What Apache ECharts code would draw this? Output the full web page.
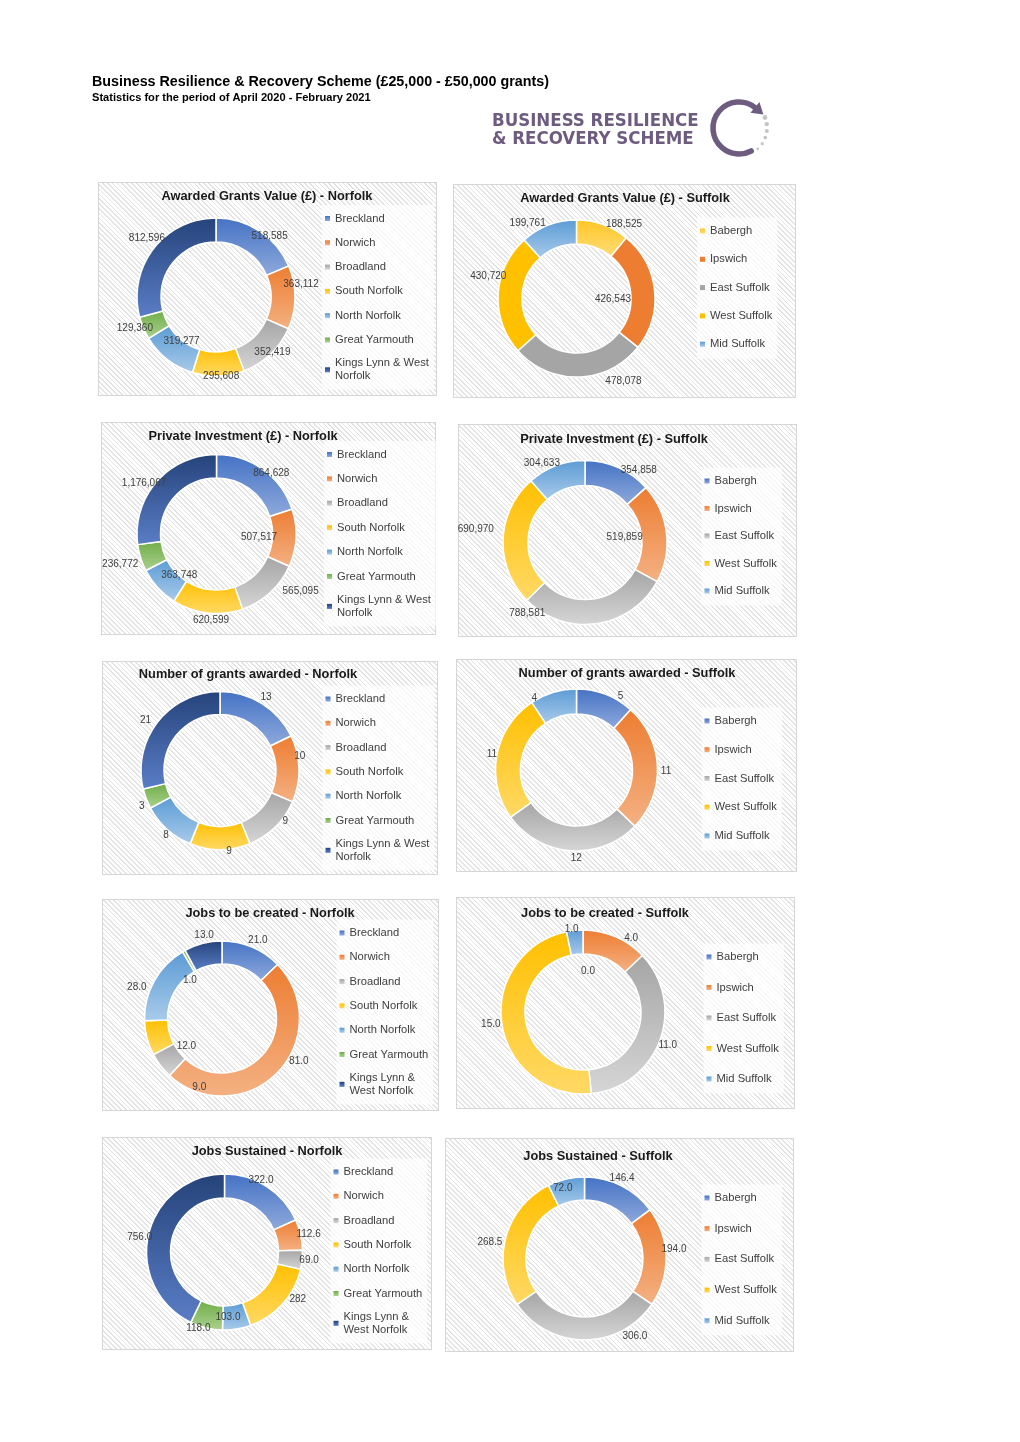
<!DOCTYPE html>
<html><head><meta charset="utf-8">
<script src="https://cdn.jsdelivr.net/npm/echarts@6/dist/echarts.min.js"></script>
<style>
html,body{margin:0;padding:0;background:#fff;}
#wrap{position:relative;width:1020px;height:1442px;overflow:hidden;}
.panel{position:absolute;box-sizing:border-box;border:1px solid #d6d6d6;
  background:repeating-linear-gradient(45deg,#ffffff 0px,#ffffff 2.2px,#e3e3e3 2.2px,#e3e3e3 3.4px);}
#chart{position:absolute;left:0;top:0;width:1020px;height:1442px;}
</style></head>
<body><div id="wrap"><div id="chart"></div></div>
<script>
// ---------------- DATA ----------------
const norfolkDistricts = ['Breckland','Norwich','Broadland','South Norfolk','North Norfolk','Great Yarmouth','Kings Lynn & West Norfolk'];
const suffolkDistricts = ['Babergh','Ipswich','East Suffolk','West Suffolk','Mid Suffolk'];

const grantsValueNorfolk   = [518585, 363112, 352419, 295608, 319277, 129360, 812596];
const grantsValueSuffolk   = [188525, 426543, 478078, 430720, 199761];
const privateInvNorfolk    = [864628, 507517, 565095, 620599, 363748, 236772, 1176067];
const privateInvSuffolk    = [354858, 519859, 788581, 690970, 304633];
const grantsCountNorfolk   = [13, 10, 9, 9, 8, 3, 21];
const grantsCountSuffolk   = [5, 11, 12, 11, 4];
const jobsCreatedNorfolk   = [21, 81, 9, 12, 28, 1, 13];
const jobsCreatedSuffolk   = [0, 4, 11, 15, 1];
const jobsSustainedNorfolk = [322, 112.6, 69, 282, 103, 118, 756];
const jobsSustainedSuffolk = [146.4, 194, 306, 268.5, 72];
// number of decimals shown in the data labels
const jobsSustainedNorfolkDecimals = [1, 1, 1, 0, 1, 1, 1];

const pageTitle = 'Business Resilience & Recovery Scheme (£25,000 - £50,000 grants)';
const pageSubtitle = 'Statistics for the period of April 2020 - February 2021';
const logoLine1 = 'BUSINESS RESILIENCE';
const logoLine2 = '& RECOVERY SCHEME';

// ---------------- STYLE ----------------
const FONT = '"Liberation Sans", Arial, Helvetica, sans-serif';
const PAL = {
  blue:   ['#4472C4', '#8FAADC'],
  orange: ['#ED7D31', '#F4B183'],
  grey:   ['#A5A5A5', '#D6D6D6'],
  gold:   ['#FFC000', '#FFD966'],
  ltblue: ['#5B9BD5', '#A9CBEA'],
  green:  ['#70AD47', '#AAD18F'],
  navy:   ['#25437A', '#5A7DC6'],
  babGold:['#FFC525', '#FFDD77'],
  orangeSolid: ['#ED7D31', '#ED7D31'],
  greySolid:   ['#A5A5A5', '#A5A5A5'],
  goldSolid:   ['#FFC000', '#FFC000']
};
const norfolkColors = [PAL.blue, PAL.orange, PAL.grey, PAL.gold, PAL.ltblue, PAL.green, PAL.navy];
const suffolkColors = [PAL.blue, PAL.orange, PAL.grey, PAL.gold, PAL.ltblue];
const suffolkAwardColors = [PAL.babGold, PAL.orangeSolid, PAL.greySolid, PAL.goldSolid, PAL.ltblue];

function grad(c) {
  if (c[0] === c[1]) return c[0];
  return new echarts.graphic.LinearGradient(0, 0, 0, 1, [{offset: 0, color: c[0]}, {offset: 1, color: c[1]}]);
}

const panels = [
  {title: 'Awarded Grants Value (£) - Norfolk', cats: norfolkDistricts, vals: grantsValueNorfolk, dec: null, colors: norfolkColors,
   box: [98, 182, 339, 214], titlePos: [267, 195], center: [216, 297], radius: [55, 79],
   legend: {x: 325, y: 218.5, step: 24.3}, wrap: 'Kings Lynn & West\nNorfolk',
   labelShift: [8, -9, -2, -2, 0, 2, 3], labelR: [81, 86, 79, 79, 56, 87, 91]},
  {title: 'Awarded Grants Value (£) - Suffolk', cats: suffolkDistricts, vals: grantsValueSuffolk, dec: null, colors: suffolkAwardColors,
   box: [453, 184, 343, 214], titlePos: [625, 197], center: [576.5, 298.5], radius: [54.5, 78.5],
   legend: {x: 700, y: 231, step: 28.3}, wrap: null,
   labelShift: [13, 8, -28, 11, -12], labelR: [88, 36.5, 95, 91, 90]},
  {title: 'Private Investment (£) - Norfolk', cats: norfolkDistricts, vals: privateInvNorfolk, dec: null, colors: norfolkColors,
   box: [101, 422, 335, 213], titlePos: [243, 435], center: [216.5, 534], radius: [56, 79.5],
   legend: {x: 327, y: 454.5, step: 24.4}, wrap: 'Kings Lynn & West\nNorfolk',
   labelShift: [6, 1, -13, -3, -5.5, 0, -6], labelR: [82, 42.6, 102, 86, 55.6, 101, 88.6]},
  {title: 'Private Investment (£) - Suffolk', cats: suffolkDistricts, vals: privateInvSuffolk, dec: null, colors: suffolkColors,
   box: [458, 424, 339, 213], titlePos: [614, 438], center: [585, 542.5], radius: [57, 82],
   legend: {x: 704.5, y: 481, step: 27.5}, wrap: null,
   labelShift: [12.7, -1, 47.6, 5, -8], labelR: [90, 40, 91, 110, 90]},
  {title: 'Number of grants awarded - Norfolk', cats: norfolkDistricts, vals: grantsCountNorfolk, dec: null, colors: norfolkColors,
   box: [102, 661, 336, 214], titlePos: [248, 673], center: [220, 770.5], radius: [56, 79],
   legend: {x: 325.5, y: 699, step: 24.3}, wrap: 'Kings Lynn & West\nNorfolk',
   labelShift: [0, -9, -7.6, -6.4, -2, -3.5, -4], labelR: [86.7, 81, 83, 81, 84, 86, 90]},
  {title: 'Number of grants awarded - Suffolk', cats: suffolkDistricts, vals: grantsCountSuffolk, dec: null, colors: suffolkColors,
   box: [456, 659, 341, 213], titlePos: [627, 672], center: [576.5, 770], radius: [56, 81],
   legend: {x: 704.5, y: 721, step: 28.75}, wrap: null,
   labelShift: [10, 2.6, -4, 0, -13.5], labelR: [85.5, 89.5, 88, 86, 83.6]},
  {title: 'Jobs to be created - Norfolk', cats: norfolkDistricts, vals: jobsCreatedNorfolk, dec: [1,1,1,1,1,1,1], colors: norfolkColors,
   box: [102, 899, 337, 212], titlePos: [270, 912], center: [222, 1018.5], radius: [54.5, 77.5],
   legend: {x: 339.5, y: 933, step: 24.3}, wrap: 'Kings Lynn &\nWest Norfolk',
   labelShift: [1.7, -15, -34, -23, -9, -10.5, 2], labelR: [86, 88, 72, 45, 90.6, 50, 85]},
  {title: 'Jobs to be created - Suffolk', cats: suffolkDistricts, vals: jobsCreatedSuffolk, dec: [1,1,1,1,1], colors: suffolkColors,
   box: [456, 897, 339, 212], titlePos: [605, 912], center: [583, 1012], radius: [58, 82],
   legend: {x: 706.5, y: 957, step: 30.5}, wrap: null,
   labelShift: [7, 10, 1, 1, -2], labelR: [41, 88, 91, 93, 84]},
  {title: 'Jobs Sustained - Norfolk', cats: norfolkDistricts, vals: jobsSustainedNorfolk, dec: jobsSustainedNorfolkDecimals, colors: norfolkColors,
   box: [102, 1137, 330, 213], titlePos: [267, 1150], center: [224.5, 1252], radius: [54, 78],
   legend: {x: 333.5, y: 1172, step: 24.3}, wrap: 'Kings Lynn &\nWest Norfolk',
   labelShift: [-6, 0.7, 0, -9, 6, 5.4, -3], labelR: [80.7, 86, 85, 87, 65, 80.5, 86]},
  {title: 'Jobs Sustained - Suffolk', cats: suffolkDistricts, vals: jobsSustainedSuffolk, dec: [1,1,1,1,1], colors: suffolkColors,
   box: [445, 1138, 349, 214], titlePos: [598, 1155], center: [584.5, 1258.5], radius: [58.5, 81.5],
   legend: {x: 704.5, y: 1198, step: 30.7}, wrap: null,
   labelShift: [-1.7, -5, -33, -5, -4], labelR: [89, 90, 92.5, 96, 73.7]}
];

// panel backgrounds
const wrap = document.getElementById('wrap');
panels.forEach(p => {
  const d = document.createElement('div');
  d.className = 'panel';
  d.style.left = p.box[0] + 'px'; d.style.top = p.box[1] + 'px';
  d.style.width = p.box[2] + 'px'; d.style.height = p.box[3] + 'px';
  wrap.insertBefore(d, wrap.firstChild);
});

function fmtVal(p, i) {
  const v = p.vals[i];
  if (!p.dec) return Math.round(v).toLocaleString('en-US');
  return v.toFixed(p.dec[i]);
}

const KL = 'Kings Lynn & West Norfolk';

const titles = [
  {text: pageTitle, left: 92, top: 75, padding: 0,
   textStyle: {fontSize: 14.3, fontWeight: 'bold', color: '#000', fontFamily: FONT}},
  {text: pageSubtitle, left: 92, top: 92.5, padding: 0,
   textStyle: {fontSize: 11.1, fontWeight: 'bold', color: '#000', fontFamily: FONT}}
].concat(panels.map(p => ({
  text: p.title, left: p.titlePos[0], top: p.titlePos[1] - 5.5, textAlign: 'center', padding: 0,
  textStyle: {fontSize: 12.8, fontWeight: 'bold', color: '#1a1a1a', fontFamily: FONT}
})));

const legends = panels.map(p => ({
  orient: 'vertical', left: p.legend.x - 3, top: p.legend.y - 6.5 - 7,
  itemGap: p.legend.step - 13, padding: [7, 5, 8, 3],
  backgroundColor: 'rgba(255,255,255,0.72)',
  icon: 'rect', itemWidth: 5, itemHeight: 5, selectedMode: false,
  itemStyle: {borderWidth: 0},
  textStyle: {fontSize: 11.2, color: '#404040', fontFamily: FONT, lineHeight: 13},
  formatter: n => (n === KL && p.wrap) ? p.wrap : n,
  data: p.cats.map((n, i) => {
    const o = {name: n, itemStyle: {color: grad(p.colors[i]), borderWidth: 0}};
    if (n === KL) o.textStyle = {padding: [0, 0, -13, 0]};
    return o;
  })
}));

const series = panels.map(p => {
  const total = p.vals.reduce((a, b) => a + b, 0);
  let acc = 0;
  const mids = p.vals.map(v => { const m = (acc + v / 2) / total * 360; acc += v; return m; });
  return {
    type: 'pie', name: p.title, center: p.center, radius: p.radius,
    startAngle: 90, clockwise: true, avoidLabelOverlap: false, animation: false, silent: true,
    itemStyle: {borderColor: '#ffffff', borderWidth: 1.5},
    label: {show: true, position: 'inside', color: '#404040', fontSize: 10, fontFamily: FONT,
            formatter: prm => fmtVal(p, prm.dataIndex)},
    labelLine: {show: false},
    emphasis: {disabled: true},
    labelLayout: prm => {
      const i = prm.dataIndex;
      const a = (mids[i] + p.labelShift[i]) * Math.PI / 180;
      return {x: p.center[0] + p.labelR[i] * Math.sin(a), y: p.center[1] - p.labelR[i] * Math.cos(a),
              align: 'center', verticalAlign: 'middle'};
    },
    data: p.vals.map((v, i) => ({name: p.cats[i], value: v, itemStyle: {color: grad(p.colors[i])}}))
  };
});

// logo graphic
const LOGO = {cx: 739, cy: 128, r: 26, col: '#6D5C80'};
const endA = -50 * Math.PI / 180;
const ex = LOGO.cx + LOGO.r * Math.cos(endA), ey = LOGO.cy + LOGO.r * Math.sin(endA);
const tx = -Math.sin(endA), ty = Math.cos(endA);
const nx = Math.cos(endA), ny = Math.sin(endA);
const arrow = [[ex + 10 * tx, ey + 10 * ty], [ex + 7 * nx - 1 * tx, ey + 7 * ny - 1 * ty], [ex - 7 * nx - 1 * tx, ey - 7 * ny - 1 * ty]];
const dotAngles = [-22, -8, 6, 20, 34, 48];
const dotSizes = [2.4, 2.2, 2.0, 1.8, 1.6, 1.4];
const LOGO_FONT = 'bold 18.5px "Liberation Sans Narrow", "DejaVu Sans Condensed", Arial';
const graphics = [
  {type: 'text', x: 492, y: 121, style: {text: logoLine1, fill: LOGO.col, font: LOGO_FONT, textVerticalAlign: 'middle'}},
  {type: 'text', x: 492, y: 139.5, style: {text: logoLine2, fill: LOGO.col, font: LOGO_FONT, textVerticalAlign: 'middle'}},
  {type: 'arc', shape: {cx: LOGO.cx, cy: LOGO.cy, r: LOGO.r, startAngle: endA, endAngle: 62 * Math.PI / 180, clockwise: false},
   style: {stroke: LOGO.col, lineWidth: 5.5, fill: null, lineCap: 'round'}},
  {type: 'polygon', shape: {points: arrow}, style: {fill: LOGO.col}}
].concat(dotAngles.map((d, k) => ({
  type: 'circle',
  shape: {cx: LOGO.cx + (LOGO.r + 2) * Math.cos(d * Math.PI / 180), cy: LOGO.cy + (LOGO.r + 2) * Math.sin(d * Math.PI / 180), r: dotSizes[k]},
  style: {fill: '#C4C4C4'}
})));

const chart = echarts.init(document.getElementById('chart'), null, {renderer: 'canvas'});
chart.setOption({
  backgroundColor: 'transparent',
  animation: false,
  title: titles,
  legend: legends,
  series: series,
  graphic: graphics
});
</script>
</body></html>
